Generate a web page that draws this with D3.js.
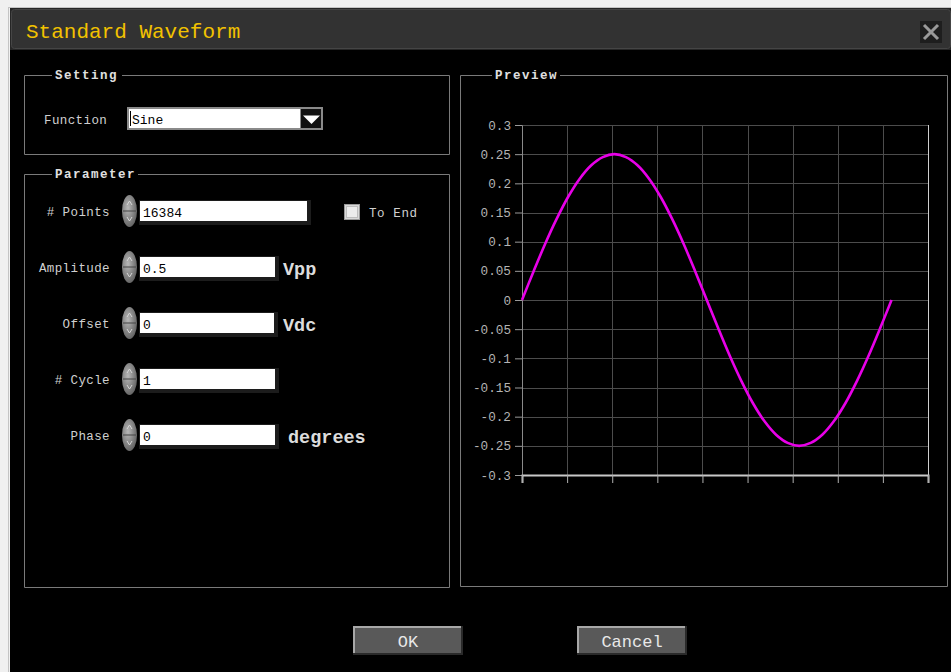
<!DOCTYPE html>
<html>
<head>
<meta charset="utf-8">
<script src="https://cdn.jsdelivr.net/npm/d3@7"></script>
<style>
  html, body { margin: 0; padding: 0; background: #f0f0f0; }
  svg { display: block; }
  text { font-family: "Liberation Mono", "DejaVu Sans Mono", monospace; }
</style>
</head>
<body>
<script>
// ---------- data ----------
const sampleIndex = [0, 512, 1024, 1536, 2048, 2560, 3072, 3584, 4096, 4608, 5120, 5632, 6144, 6656, 7168, 7680,
  8192, 8704, 9216, 9728, 10240, 10752, 11264, 11776, 12288, 12800, 13312, 13824, 14336, 14848, 15360, 15872, 16384];
const sampleValue = [0, 0.049, 0.096, 0.139, 0.177, 0.208, 0.231, 0.245, 0.25, 0.245, 0.231, 0.208, 0.177, 0.139, 0.096, 0.049,
  0, -0.049, -0.096, -0.139, -0.177, -0.208, -0.231, -0.245, -0.25, -0.245, -0.231, -0.208, -0.177, -0.139, -0.096, -0.049, 0];
const yTicks = [0.3, 0.25, 0.2, 0.15, 0.1, 0.05, 0, -0.05, -0.1, -0.15, -0.2, -0.25, -0.3];
const yTickLabels = ["0.3", "0.25", "0.2", "0.15", "0.1", "0.05", "0", "-0.05", "-0.1", "-0.15", "-0.2", "-0.25", "-0.3"];
const xTicks = [0, 2000, 4000, 6000, 8000, 10000, 12000, 14000, 16000, 18000];
const paramLabels = ["# Points", "Amplitude", "Offset", "# Cycle", "Phase"];
const paramValues = ["16384", "0.5", "0", "1", "0"];
const paramUnits = ["", "Vpp", "Vdc", "", "degrees"];

// ---------- canvas ----------
const W = 951, H = 672;
const svg = d3.select("body").append("svg").attr("width", W).attr("height", H);

// window frame
svg.append("rect").attr("x", 0).attr("y", 0).attr("width", W).attr("height", H).attr("fill", "#f0f0f0");
svg.append("line").attr("x1", 8.5).attr("x2", 8.5).attr("y1", 7).attr("y2", H).attr("stroke", "#c4c4c4");
svg.append("line").attr("x1", 8).attr("x2", W).attr("y1", 7.5).attr("y2", 7.5).attr("stroke", "#c4c4c4");
svg.append("rect").attr("x", 10).attr("y", 8).attr("width", W - 10).attr("height", H - 8).attr("fill", "#000");

// title bar
svg.append("rect").attr("x", 10).attr("y", 8).attr("width", W - 10).attr("height", 42).attr("fill", "#262626");
svg.append("rect").attr("x", 11.5).attr("y", 9.5).attr("width", W - 12).attr("height", 39).attr("rx", 3)
  .attr("fill", "#323232").attr("stroke", "#454545");
svg.append("text").attr("x", 26).attr("y", 38).attr("fill", "#f2c200")
  .attr("font-size", 21).text("Standard Waveform");
svg.append("rect").attr("x", 920).attr("y", 21).attr("width", 22).attr("height", 22).attr("fill", "#1e1e1e");
svg.append("path").attr("d", "M924,25 L938,39 M938,25 L924,39")
  .attr("stroke", "#9a9a9a").attr("stroke-width", 3);

// ---------- group boxes ----------
function groupBox(x, y, w, h, title, tx, tw) {
  svg.append("path")
    .attr("d", `M${tx - 3},${y + 0.5} H${x + 0.5} V${y + h + 0.5} H${x + w + 0.5} V${y + 0.5} H${tx + tw + 3}`)
    .attr("fill", "none").attr("stroke", "#7a7a7a");
  svg.append("text").attr("x", tx).attr("y", y + 4).attr("fill", "#e0e0e0")
    .attr("font-size", 12.5).attr("font-weight", "bold").attr("letter-spacing", 1.5).text(title);
}
groupBox(24, 75, 425, 79, "Setting", 55, 64);
groupBox(24, 174, 425, 413, "Parameter", 55, 80);
groupBox(460, 75, 487, 511, "Preview", 495, 62);

// Setting: function dropdown
svg.append("text").attr("x", 44).attr("y", 124).attr("fill", "#d0d0d0").attr("font-size", 12.5)
  .attr("letter-spacing", 0.4).text("Function");
svg.append("rect").attr("x", 127).attr("y", 107).attr("width", 196).attr("height", 23).attr("fill", "#8a8a8a");
svg.append("rect").attr("x", 129).attr("y", 109).attr("width", 171).attr("height", 19).attr("fill", "#fff");
svg.append("rect").attr("x", 301).attr("y", 109).attr("width", 20).attr("height", 19).attr("fill", "#111");
svg.append("path").attr("d", "M303,115.5 L320,115.5 L311.5,124 Z").attr("fill", "#fff");
svg.append("line").attr("x1", 130.5).attr("x2", 130.5).attr("y1", 111).attr("y2", 126).attr("stroke", "#000");
svg.append("text").attr("x", 132).attr("y", 124).attr("fill", "#000").attr("font-size", 13).text("Sine");

// Parameter rows
const defs = svg.append("defs");
const grad = defs.append("radialGradient").attr("id", "spin").attr("cx", "40%").attr("cy", "40%").attr("r", "70%");
grad.append("stop").attr("offset", "0%").attr("stop-color", "#b8b8b8");
grad.append("stop").attr("offset", "100%").attr("stop-color", "#5a5a5a");
const rowY = [212, 268, 324, 380, 436];
const inputRight = [307, 275, 274, 275, 275];
paramLabels.forEach((lab, i) => {
  const cy = rowY[i];
  svg.append("text").attr("x", 110).attr("y", cy + 4).attr("text-anchor", "end")
    .attr("fill", "#d0d0d0").attr("font-size", 12.5).attr("letter-spacing", 0.4).text(lab);
  // spinner
  svg.append("ellipse").attr("cx", 129.5).attr("cy", cy - 1).attr("rx", 7.5).attr("ry", 16).attr("fill", "url(#spin)");
  svg.append("line").attr("x1", 123).attr("x2", 136).attr("y1", cy - 1).attr("y2", cy - 1).attr("stroke", "#444");
  svg.append("path").attr("d", `M127,${cy - 7} L129.5,${cy - 11} L132,${cy - 7}`).attr("fill", "none").attr("stroke", "#d8d8d8");
  svg.append("path").attr("d", `M127,${cy + 5} L129.5,${cy + 9} L132,${cy + 5}`).attr("fill", "none").attr("stroke", "#d8d8d8");
  // input
  const x0 = 140, x1 = inputRight[i];
  svg.append("rect").attr("x", x0 - 1).attr("y", cy - 12).attr("width", x1 - x0 + 5).attr("height", 25).attr("fill", "#1c1c1c");
  svg.append("rect").attr("x", x0).attr("y", cy - 11).attr("width", x1 - x0).attr("height", 20).attr("fill", "#fff");
  svg.append("text").attr("x", x0 + 3).attr("y", cy + 4.5).attr("fill", "#000").attr("font-size", 13).text(paramValues[i]);
  if (paramUnits[i]) {
    svg.append("text").attr("x", paramUnits[i] === "degrees" ? 288 : 283).attr("y", cy + 7)
      .attr("fill", "#dcdcdc").attr("font-size", 18.5).attr("font-weight", "bold").text(paramUnits[i]);
  }
});
// To End checkbox
svg.append("rect").attr("x", 344.5).attr("y", 204.5).attr("width", 15).attr("height", 15)
  .attr("fill", "#d8d8d8").attr("stroke", "#9a9a9a");
svg.append("rect").attr("x", 346.5).attr("y", 206.5).attr("width", 11).attr("height", 11)
  .attr("fill", "#ececec").attr("stroke", "#bdbdbd");
svg.append("text").attr("x", 369).attr("y", 217).attr("fill", "#d0d0d0").attr("font-size", 12.5)
  .attr("letter-spacing", 0.6).text("To End");

// ---------- preview chart ----------
const x = d3.scaleLinear().domain([0, 18000]).range([522, 928]);
const y = d3.scaleLinear().domain([-0.3, 0.3]).range([475, 125]);

const grid = svg.append("g");
grid.selectAll("line.v").data(xTicks).join("line")
  .attr("x1", d => Math.round(x(d)) + 0.5).attr("x2", d => Math.round(x(d)) + 0.5)
  .attr("y1", y(0.3)).attr("y2", y(-0.3)).attr("stroke", "#4c4c4c");
grid.selectAll("line.h").data(yTicks).join("line")
  .attr("x1", x(0)).attr("x2", x(18000))
  .attr("y1", d => Math.round(y(d)) + 0.5).attr("y2", d => Math.round(y(d)) + 0.5).attr("stroke", "#4c4c4c");
// right border light
svg.append("line").attr("x1", Math.round(x(18000)) + 0.5).attr("x2", Math.round(x(18000)) + 0.5)
  .attr("y1", y(0.3)).attr("y2", y(-0.3)).attr("stroke", "#cfcfcf");

// y axis
const yAxis = svg.append("g").attr("transform", `translate(${x(0)},0)`)
  .call(d3.axisLeft(y).tickValues(yTicks).tickSize(7).tickPadding(4)
    .tickFormat((d, i) => yTickLabels[i]));
yAxis.select(".domain").attr("stroke", "#8a8a8a");
yAxis.selectAll(".tick line").attr("stroke", "#9a9a9a");
yAxis.selectAll(".tick text").attr("fill", "#b4b4b4").attr("font-size", 12.7)
  .attr("font-family", "'Liberation Mono', monospace");

// x axis (no labels)
const xAxis = svg.append("g").attr("transform", `translate(0,${y(-0.3)})`)
  .call(d3.axisBottom(x).tickValues(xTicks).tickSize(8).tickFormat(""));
xAxis.select(".domain").attr("stroke", "#c8c8c8").attr("stroke-width", 2);
xAxis.selectAll(".tick line").attr("stroke", "#b0b0b0");

// waveform
const line = d3.line().x((d, i) => x(sampleIndex[i])).y(d => y(d)).curve(d3.curveCatmullRom);
svg.append("path").datum(sampleValue).attr("d", line)
  .attr("fill", "none").attr("stroke", "#e800e8").attr("stroke-width", 2.6);

// ---------- buttons ----------
function button(bx, label) {
  const by = 626, bw = 110, bh = 29;
  svg.append("rect").attr("x", bx).attr("y", by).attr("width", bw).attr("height", bh).attr("fill", "#2a2a2a");
  svg.append("rect").attr("x", bx).attr("y", by).attr("width", bw - 2).attr("height", bh - 2).attr("fill", "#a8a8a8");
  svg.append("rect").attr("x", bx + 2).attr("y", by + 2).attr("width", bw - 4).attr("height", bh - 4).attr("fill", "#595959");
  svg.append("text").attr("x", bx + bw / 2).attr("y", by + 21).attr("text-anchor", "middle")
    .attr("fill", "#e8e8e8").attr("font-size", 17).text(label);
}
button(353, "OK");
button(577, "Cancel");
</script>
</body>
</html>
